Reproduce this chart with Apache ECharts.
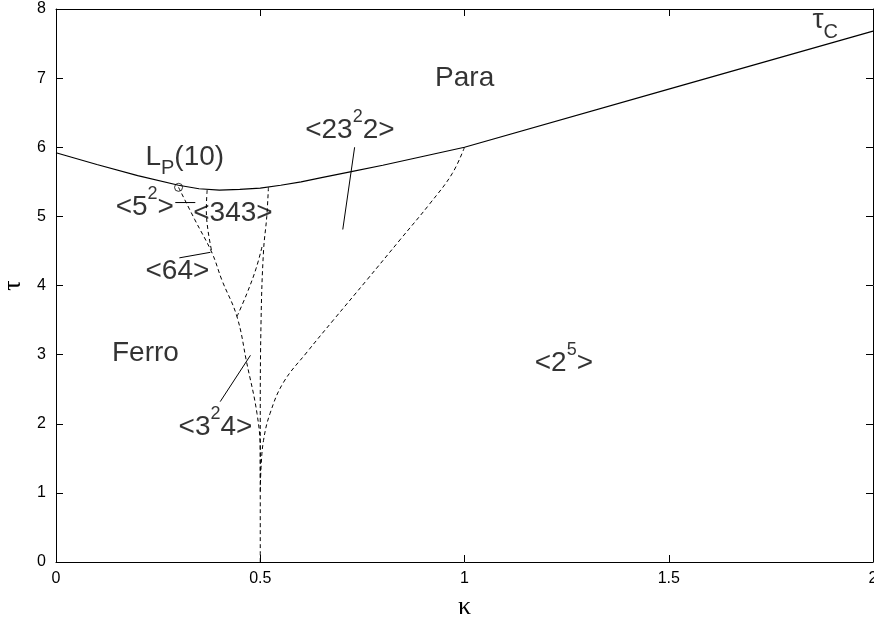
<!DOCTYPE html>
<html>
<head>
<meta charset="utf-8">
<script src="https://cdn.jsdelivr.net/npm/echarts@6/dist/echarts.min.js"></script>
<style>
  html, body { margin: 0; padding: 0; background: #fff; }
  #main { width: 874px; height: 620px; }
</style>
</head>
<body>
<div id="main"></div>
<script>
  // critical line tau_c (solid)
  var tauC = [[0, 5.92], [0.1, 5.75], [0.2, 5.59], [0.3, 5.45], [0.35, 5.40], [0.4, 5.38],
    [0.45, 5.39], [0.5, 5.41], [0.55, 5.45], [0.6, 5.50], [0.65, 5.56], [0.72, 5.645],
    [0.8, 5.74], [0.9, 5.87], [1.0, 6.0], [1.5, 6.84], [2.0, 7.68]];

  // dashed phase boundaries
  var lpBoundary = [[0.30, 5.42], [0.34, 4.95], [0.382, 4.47], [0.406, 4.08], [0.443, 3.55],
    [0.467, 2.88], [0.492, 2.15], [0.5, 1.6], [0.5, 1.2]];
  var left343 = [[0.37, 5.38], [0.368, 5.1], [0.372, 4.8], [0.382, 4.47]];
  var inner64 = [[0.443, 3.55], [0.467, 3.88], [0.49, 4.25], [0.506, 4.6]];
  var right343 = [[0.52, 5.42], [0.516, 5.0], [0.508, 4.5], [0.502, 3.5], [0.5, 2.0], [0.5, 0]];
  var bigCurve = [[1.0, 6.0], [0.97, 5.62], [0.916, 5.19], [0.842, 4.66], [0.761, 4.08],
    [0.679, 3.5], [0.615, 3.04], [0.557, 2.60], [0.524, 2.15], [0.508, 1.76], [0.502, 1.37], [0.5, 1.0]];

  // short pointer lines (solid)
  var ptr52 = [[0.292, 5.20], [0.341, 5.20]];
  var ptr64 = [[0.302, 4.40], [0.378, 4.48]];
  var ptr2322 = [[0.731, 6.0], [0.702, 4.81]];
  var ptr324 = [[0.476, 2.99], [0.402, 2.32]];

  // Lifshitz point marker
  var lifshitz = [[0.30, 5.42]];

  // region labels: text, kappa, tau (left edge, middle)
  var labelText = ['L{sub|P}(10)', '<5{sup|2}>', '<343>', '<64>', 'Ferro', '<3{sup|2}4>',
    '<23{sup|2}2>', 'Para', '<2{sup|5}>', 'τ{sub|C}'];
  var labelKappa = [0.219, 0.146, 0.336, 0.219, 0.137, 0.300, 0.610, 0.928, 1.172, 1.852];
  var labelTau = [5.86, 5.13, 5.05, 4.21, 3.02, 1.95, 6.25, 7.00, 2.88, 7.83];

  var font = '"Liberation Sans", Arial, sans-serif';

  function dashed(name, data) {
    return {
      name: name, type: 'line', data: data, symbol: 'none', smooth: 0.4,
      lineStyle: { color: '#000', width: 1, type: [4, 3] }
    };
  }

  function pointer(data) {
    return {
      type: 'line', data: data, symbol: 'none',
      lineStyle: { color: '#000', width: 1 }
    };
  }

  var labelData = [];
  for (var i = 0; i < labelText.length; i++) {
    labelData.push({ name: labelText[i], value: [labelKappa[i], labelTau[i]] });
  }

  var myChart = echarts.init(document.getElementById('main'));
  myChart.setOption({
    animation: false,
    grid: { left: 56, right: 1, top: 9, bottom: 58, containLabel: false, outerBoundsMode: 'none' },
    xAxis: [{
      type: 'value', min: 0, max: 2, interval: 0.5,
      axisLine: { show: true, onZero: false, lineStyle: { color: '#000', width: 1 } },
      axisTick: { show: true, inside: true, length: 7, lineStyle: { color: '#000' } },
      axisLabel: { color: '#000', fontSize: 16, margin: 9, fontFamily: font },
      splitLine: { show: false },
      name: 'κ', nameLocation: 'middle', nameGap: 32,
      nameTextStyle: { color: '#000', fontSize: 26, fontFamily: '"Liberation Serif", serif' }
    }, {
      type: 'value', min: 0, max: 2, interval: 0.5, position: 'top',
      axisLine: { show: true, onZero: false, lineStyle: { color: '#000', width: 1 } },
      axisTick: { show: true, inside: true, length: 7, lineStyle: { color: '#000' } },
      axisLabel: { show: false },
      splitLine: { show: false }
    }],
    yAxis: [{
      type: 'value', min: 0, max: 8, interval: 1,
      axisLine: { show: true, onZero: false, lineStyle: { color: '#000', width: 1 } },
      axisTick: { show: true, inside: true, length: 7, lineStyle: { color: '#000' } },
      axisLabel: { color: '#000', fontSize: 16, margin: 10, fontFamily: font },
      splitLine: { show: false },
      name: 'τ', nameLocation: 'middle', nameGap: 22,
      nameTextStyle: { color: '#000', fontSize: 26, fontFamily: '"Liberation Serif", serif' }
    }, {
      type: 'value', min: 0, max: 8, interval: 1, position: 'right',
      axisLine: { show: true, onZero: false, lineStyle: { color: '#000', width: 1 } },
      axisTick: { show: true, inside: true, length: 7, lineStyle: { color: '#000' } },
      axisLabel: { show: false },
      splitLine: { show: false }
    }],
    series: [
      {
        name: 'tauC', type: 'line', data: tauC, symbol: 'none',
        lineStyle: { color: '#000', width: 1.2 }
      },
      dashed('lp', lpBoundary),
      dashed('left343', left343),
      dashed('inner64', inner64),
      dashed('right343', right343),
      dashed('big', bigCurve),
      pointer(ptr52),
      pointer(ptr64),
      pointer(ptr2322),
      pointer(ptr324),
      {
        type: 'scatter', data: lifshitz, symbol: 'circle', symbolSize: 8,
        itemStyle: { color: '#fff', borderColor: '#000', borderWidth: 1 }
      },
      {
        type: 'scatter', data: labelData, symbolSize: 0, silent: true,
        label: {
          show: true, position: 'right', distance: 0,
          formatter: function (p) { return p.name; },
          color: '#000', fontSize: 28, lineHeight: 44, fontFamily: font,
          rich: {
            sup: { fontSize: 18, lineHeight: 18, verticalAlign: 'top', color: '#000', fontFamily: font },
            sub: { fontSize: 20, lineHeight: 20, verticalAlign: 'bottom', color: '#000', fontFamily: font }
          }
        }
      }
    ]
  });
</script>
</body>
</html>
